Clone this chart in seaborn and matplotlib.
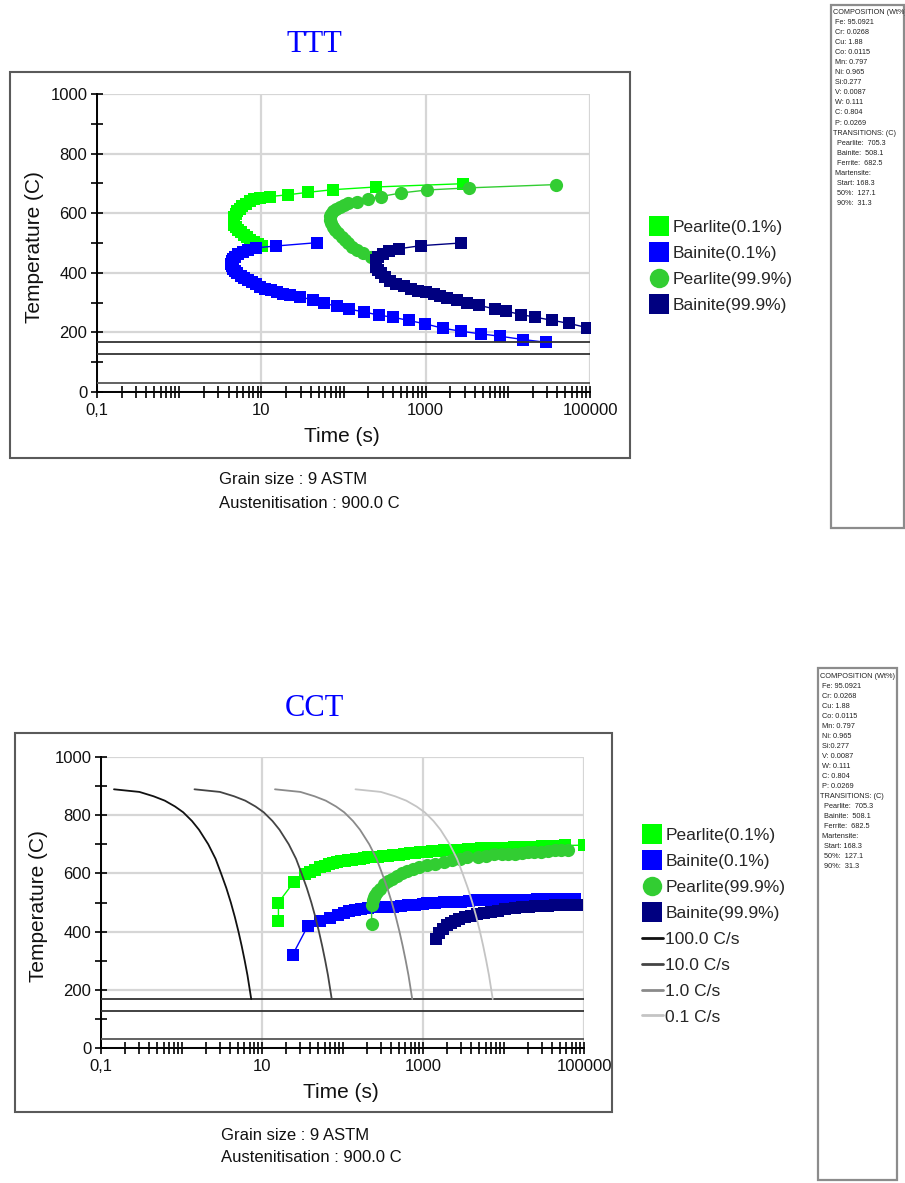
import numpy as np
import pandas as pd
import matplotlib
matplotlib.use("Agg")
import matplotlib.pyplot as plt
import seaborn as sns
from matplotlib.lines import Line2D
from matplotlib.patches import Rectangle
from matplotlib.ticker import NullFormatter

# ---------------- data ----------------
# TTT diagram (time in s, temperature in C)
ttt_p01_t = [10.2, 9.0, 8.1, 7.3, 6.6, 6.1, 5.6, 5.2, 4.9, 4.7, 4.6, 4.6, 4.7, 4.85, 5.1,
             5.45, 5.85, 6.5, 7.3, 8.1, 9.6, 12.8, 21.4, 36.5, 75, 248, 2830]
ttt_p01_T = [490, 497, 504, 511, 519, 527, 536, 545, 553, 562, 570, 578, 587, 596, 606,
             615, 624, 632, 640, 647, 652, 656, 662, 670, 679, 688, 699]

ttt_b01_t = [47, 15.2, 8.7, 6.9, 5.9, 5.2, 4.75, 4.5, 4.35, 4.3, 4.35, 4.5, 4.75, 5.1, 5.6,
             6.2, 6.9, 7.8, 8.7, 9.7, 11.2, 13.0, 15.5, 18.5, 22.5, 29.7, 42, 58, 84, 116,
             176, 267, 397, 624, 970, 1625, 2680, 4660, 8110, 15400, 28900]
ttt_b01_T = [501, 490, 484, 477, 470, 462, 454, 446, 438, 430, 422, 414, 406, 398, 390,
             382, 375, 368, 361, 353, 347, 341, 335, 329, 324, 318, 310, 297, 288, 278,
             269, 258, 251, 240, 229, 214, 204, 195, 187, 176, 167]

ttt_p99_t = [215, 175, 145, 128, 115, 104, 95, 86, 79, 74, 70.5, 69, 68.5, 70, 75, 82, 91,
             102, 115, 145, 200, 285, 505, 1047, 3350, 38100]
ttt_p99_T = [452, 465, 476, 488, 499, 510, 521, 532, 544, 555, 566, 578, 589, 598, 606, 614,
             622, 628, 634, 639, 648, 656, 668, 678, 685, 696]

ttt_b99_t = [2680, 870, 480, 360, 300, 265, 250, 248, 252, 265, 285, 320, 366, 440, 540, 660,
             800, 1000, 1250, 1500, 1800, 2400, 3200, 4400, 6900, 9600, 14400, 21500, 34000,
             56000, 92000]
ttt_b99_T = [500, 491, 481, 472, 462, 452, 442, 432, 421, 410, 398, 386, 374, 364, 355, 347,
             340, 334, 328, 322, 317, 309, 300, 291, 279, 271, 260, 251, 241, 230, 216]

# CCT diagram
cct_p01_t = [16, 16, 25, 34, 40, 46, 53, 60, 68, 76, 85, 95, 106, 118, 132, 148, 165, 185,
             210, 240, 275, 320, 370, 428, 500, 580, 693, 800, 930, 1120, 1300, 1500, 1820,
             2100, 2500, 2950, 3600, 4300, 5200, 6330, 7500, 9000, 11000, 13500, 16500,
             20400, 25000, 30000, 37000, 45000, 58300, 100000]
cct_p01_T = [437, 500, 571, 598, 606, 613, 621, 626, 631, 635, 638, 641, 643, 645, 647, 649,
             651, 653, 655, 657, 658, 660, 661, 662, 664, 666, 669, 671, 673, 675, 677, 678,
             679, 680, 681, 682, 684, 685, 686, 687, 688, 689, 689, 690, 690, 691, 692, 693,
             694, 695, 696, 697]

cct_b01_t = [24, 37, 53, 70, 87, 104, 122, 145, 170, 210, 260, 330, 427, 530, 650, 800, 1000,
             1120, 1400, 1800, 2300, 2950, 3700, 4600, 5800, 7700, 9500, 12000, 15500, 20400,
             26000, 33000, 42000, 52000, 64000, 77000]
cct_b01_T = [320, 419, 435, 447, 457, 465, 471, 475, 478, 481, 483, 485, 486, 488, 490, 492,
             495, 497, 499, 501, 502, 503, 505, 507, 508, 509, 509, 510, 510, 510, 511, 512,
             512, 513, 513, 513]

cct_p99_t = [230, 230, 236, 244, 252, 270, 292, 330, 370, 408, 470, 550, 640, 760, 900, 1120,
             1400, 1820, 2300, 2900, 3560, 4760, 6000, 7700, 9500, 11300, 14000, 17000, 20000,
             24000, 29600, 36000, 43300, 52000, 63600]
cct_p99_T = [426, 491, 510, 518, 526, 537, 548, 565, 575, 582, 592, 600, 607, 614, 621, 629,
             634, 640, 646, 651, 655, 657, 661, 665, 665, 665, 668, 670, 672, 673, 674, 678,
             682, 682, 682]

cct_b99_t = [1430, 1600, 1780, 2000, 2200, 2500, 2800, 3300, 3930, 4700, 5750, 7000, 8500,
             10500, 13800, 17000, 20500, 24600, 30000, 36000, 43700, 52000, 64000, 81000]
cct_b99_T = [374, 395, 410, 421, 430, 437, 444, 450, 455, 460, 465, 469, 472, 476, 480, 483,
             485, 487, 488, 489, 490, 490, 491, 491]

# cooling curves
cool_T = [889, 880, 865, 850, 830, 810, 780, 750, 700, 650, 600, 550, 500, 450, 400, 350,
          300, 250, 200, 168]
cool_t100 = [0.145, 0.3, 0.45, 0.62, 0.83, 1.05, 1.35, 1.65, 2.15, 2.65, 3.1, 3.6, 4.1, 4.6,
             5.1, 5.6, 6.1, 6.6, 7.05, 7.35]
cool_t10 = [1.45, 3.0, 4.5, 6.2, 8.3, 10.5, 13.5, 16.5, 21.5, 26.5, 31, 36, 41, 46, 51, 56,
            61, 66, 70.5, 73.5]
cool_t1 = [14.5, 30, 45, 62, 83, 105, 135, 165, 215, 265, 310, 360, 410, 460, 510, 560, 610,
           660, 705, 735]
cool_t01 = [145, 300, 450, 620, 830, 1050, 1350, 1650, 2150, 2650, 3100, 3600, 4100, 4600,
            5100, 5600, 6100, 6600, 7050, 7350]
cool_labels = ["100.0 C/s", "10.0 C/s", "1.0 C/s", "0.1 C/s"]
cool_colors = ["#111111", "#444444", "#8a8a8a", "#c4c4c4"]

martensite = [168.3, 127.1, 31.3]

series_labels = ["Pearlite(0.1%)", "Bainite(0.1%)", "Pearlite(99.9%)", "Bainite(99.9%)"]
series_colors = ["#00ff00", "#0000ff", "#32cd32", "#000080"]
series_markers = ["s", "s", "o", "s"]

xticks = [0.1, 10, 1000, 100000]
xticklabels = ["0,1", "10", "1000", "100000"]

composition = ["COMPOSITION (Wt%)", " Fe: 95.0921", " Cr: 0.0268", " Cu: 1.88", " Co: 0.0115",
               " Mn: 0.797", " Ni: 0.965", " Si:0.277", " V: 0.0087", " W: 0.111", " C: 0.804",
               " P: 0.0269", "TRANSITIONS: (C)", "  Pearlite:  705.3", "  Bainite:  508.1",
               "  Ferrite:  682.5", " Martensite:", "  Start: 168.3", "  50%:  127.1",
               "  90%:  31.3"]

# ---------------- figure ----------------
sns.set_theme(style="white")
plt.rcParams["font.family"] = ["Liberation Sans", "DejaVu Sans"]

W, H = 905, 1183
fig = plt.figure(figsize=(W / 100, H / 100), dpi=100)


def fx(px):
    return px / W


def fy(py):
    return 1 - py / H


def frame(x0, y0, x1, y1, color="#5a5a5a", lw=1.5):
    fig.add_artist(Rectangle((fx(x0), fy(y1)), fx(x1) - fx(x0), fy(y0) - fy(y1),
                             transform=fig.transFigure, fill=False, ec=color, lw=lw))


def make_axes(x0, x1, y_top, y_bot):
    ax = fig.add_axes([fx(x0), fy(y_bot), fx(x1) - fx(x0), fy(y_top) - fy(y_bot)])
    ax.set_xscale("log")
    ax.set_xlim(0.1, 100000)
    ax.set_ylim(0, 1000)
    ax.set_xticks(xticks)
    ax.set_xticklabels(xticklabels)
    ax.set_xticks([m * 10.0 ** k for k in range(-1, 5) for m in range(2, 11)], minor=True)
    ax.xaxis.set_minor_formatter(NullFormatter())
    ax.set_yticks(range(0, 1001, 200))
    ax.set_yticks(range(100, 1000, 200), minor=True)
    ax.grid(True, which="major", color="#d6d6d6", lw=1.6)
    ax.set_axisbelow(True)
    for s in ["top", "right"]:
        ax.spines[s].set_visible(False)
    for s in ["left", "bottom"]:
        ax.spines[s].set_color("black")
        ax.spines[s].set_linewidth(1.4)
    ax.tick_params(which="both", bottom=True, left=True, direction="inout", length=8,
                   width=1.2, color="black", labelsize=12, labelcolor="#111111")
    ax.tick_params(axis="x", pad=4)
    ax.tick_params(axis="y", pad=3)
    ax.set_facecolor("white")
    return ax


def draw_series(ax, data):
    for (t, T), col, mk in zip(data, series_colors, series_markers):
        sns.lineplot(x=t, y=T, sort=False, estimator=None, color=col, marker=mk,
                     markersize=8.8 if mk == "s" else 9.5, markeredgewidth=0, linewidth=1,
                     ax=ax, legend=False)


def martensite_lines(ax):
    for v, c in zip(martensite, ["#333333", "#333333", "#555555"]):
        ax.axhline(v, color=c, lw=1.3, zorder=4)


def axis_labels(ylx, yly, xlx, xly):
    fig.text(fx(ylx), fy(yly), "Temperature (C)", rotation=90, ha="center", va="center",
             fontsize=15, color="#111111")
    fig.text(fx(xlx), fy(xly), "Time (s)", ha="center", va="center", fontsize=15,
             color="#111111")


def legend(ax, x, y, with_lines=False):
    handles = [Line2D([], [], ls="none", marker=m, ms=14, mew=0, color=c)
               for m, c in zip(series_markers, series_colors)]
    labs = list(series_labels)
    if with_lines:
        handles += [Line2D([], [], color=c, lw=2) for c in cool_colors]
        labs += cool_labels
    ax.legend(handles, labs, loc="upper left", bbox_to_anchor=(fx(x), fy(y)),
              bbox_transform=fig.transFigure, frameon=False, fontsize=12.5,
              handlelength=1.2, handletextpad=0.15, labelspacing=0.62, borderpad=0,
              borderaxespad=0)


def composition_box(x0, y0, x1, y1, tx, ty, dy, fs):
    frame(x0, y0, x1, y1, color="#8c8c8c", lw=1.6)
    for i, line in enumerate(composition):
        fig.text(fx(tx), fy(ty + i * dy), line, fontsize=fs, ha="left", va="center",
                 color="#222222")


# ---------------- TTT ----------------
frame(10, 72, 630, 458)
fig.text(fx(314), fy(44), "TTT", ha="center", va="center", color="blue", fontsize=22,
         family="Liberation Serif")
ax1 = make_axes(97, 590, 94, 392)
draw_series(ax1, [(ttt_p01_t, ttt_p01_T), (ttt_b01_t, ttt_b01_T),
                  (ttt_p99_t, ttt_p99_T), (ttt_b99_t, ttt_b99_T)])
martensite_lines(ax1)
axis_labels(34, 247, 342, 437)
legend(ax1, 649, 220)
fig.text(fx(219), fy(480), "Grain size : 9 ASTM", ha="left", va="center", fontsize=12,
         color="#111111")
fig.text(fx(219), fy(503), "Austenitisation : 900.0 C", ha="left", va="center", fontsize=12,
         color="#111111")
composition_box(831, 5, 904, 528, 833, 12, 10.1, 5.2)

# ---------------- CCT ----------------
frame(15, 733, 612, 1112)
fig.text(fx(314), fy(708), "CCT", ha="center", va="center", color="blue", fontsize=22,
         family="Liberation Serif")
ax2 = make_axes(101, 584, 757, 1048)
draw_series(ax2, [(cct_p01_t, cct_p01_T), (cct_b01_t, cct_b01_T),
                  (cct_p99_t, cct_p99_T), (cct_b99_t, cct_b99_T)])
for t, c in zip([cool_t100, cool_t10, cool_t1, cool_t01], cool_colors):
    sns.lineplot(x=t, y=cool_T, sort=False, estimator=None, color=c, linewidth=1.3,
                 ax=ax2, legend=False, zorder=5)
martensite_lines(ax2)
axis_labels(39, 906, 341, 1092)
legend(ax2, 642, 828, with_lines=True)
fig.text(fx(221), fy(1135), "Grain size : 9 ASTM", ha="left", va="center", fontsize=12,
         color="#111111")
fig.text(fx(221), fy(1158), "Austenitisation : 900.0 C", ha="left", va="center", fontsize=12,
         color="#111111")
composition_box(818, 668, 897, 1180, 820, 677, 10.0, 5.3)

fig.savefig("out.png", dpi=100, facecolor="white")
